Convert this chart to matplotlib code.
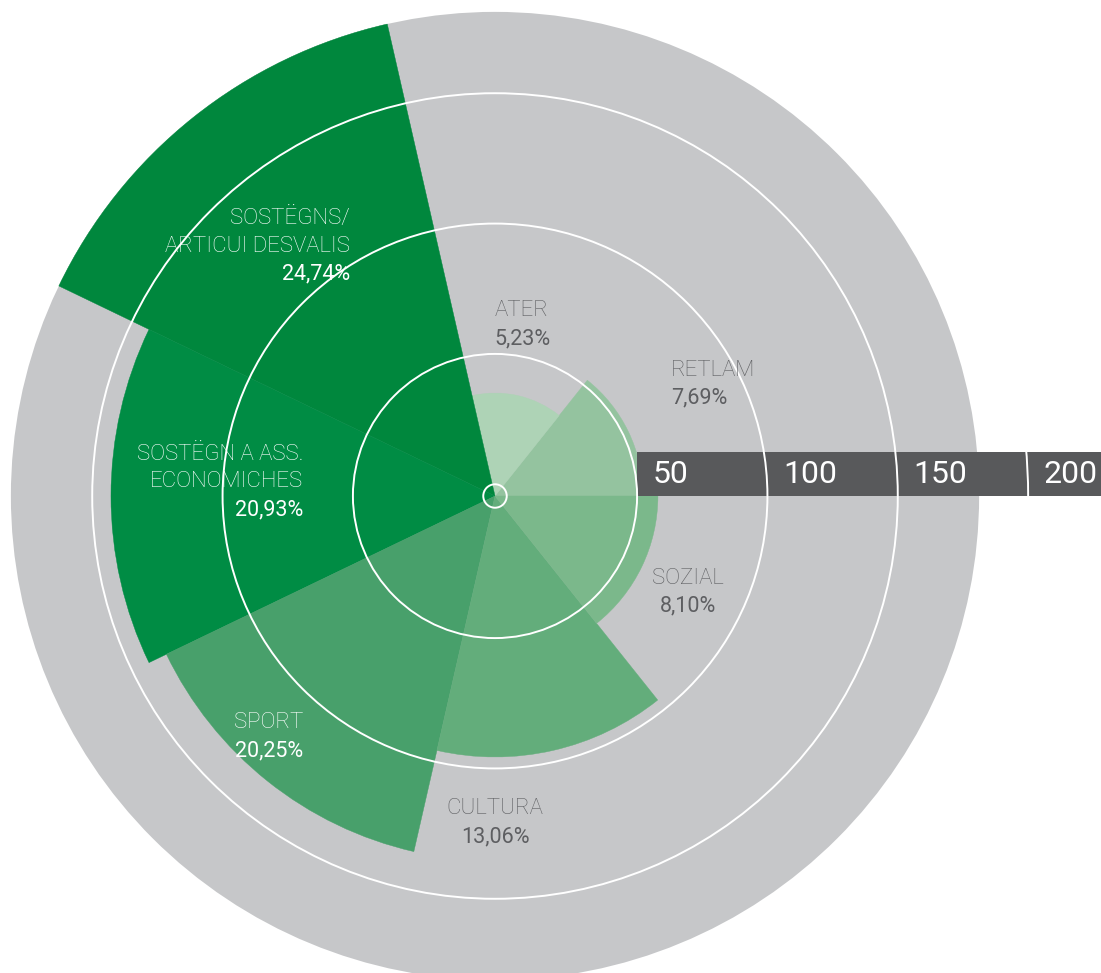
import matplotlib.pyplot as plt
import matplotlib.patches as patches
import numpy as np

# data, counter-clockwise from the right horizontal axis
categories = ['RETLAM', 'ATER', 'SOSTËGNS/\nARTICUI DESVALIS',
              'SOSTËGN A ASS.\nECONOMICHES', 'SPORT', 'CULTURA', 'SOZIAL']
values = [52.3, 35.0, 181.2, 142.8, 135.4, 95.6, 58.0]
shares = ['7,69%', '5,23%', '24,74%', '20,93%', '20,25%', '13,06%', '8,10%']
ticks = [50, 100, 150, 200]

colors = ['#94c39f', '#aed3b6', '#00873d', '#008c44', '#48a06b', '#63ad7b', '#7bb88b']
text_colors = ['#5d5e61', '#5d5e61', 'white', 'white', 'white', '#5d5e61', '#5d5e61']

# label anchors in pixels (x, baseline of the percent line, alignment)
label_pos = [(671, 403, 'left'), (522, 344, 'center'), (350, 279, 'right'),
             (303, 515, 'right'), (303, 756, 'right'), (495, 842, 'center'),
             (688, 611, 'center')]

W, H = 1101, 973
CX, CY = 495, 496      # centre in pixels
K = 2.607              # pixels per unit
R0 = 4.5               # value 0 sits a bit off the centre


def rad(v):
    return v + R0


def px(x, y):
    return (x - CX) / K, (CY - y) / K


plt.rcParams['font.family'] = ['Roboto', 'DejaVu Sans']

fig = plt.figure(figsize=(W / 100, H / 100), dpi=100)
ax = fig.add_axes([0, 0, 1, 1])
ax.set_xlim(-CX / K, (W - CX) / K)
ax.set_ylim(-(H - CY) / K, CY / K)
ax.set_aspect('equal')
ax.axis('off')

# grey background disc
ax.add_patch(patches.Circle((0, 0), rad(max(values)), color='#c6c7c9', lw=0, zorder=1))

# rose wedges
step = 360 / len(values)
for i, v in enumerate(values):
    w = patches.Wedge((0, 0), rad(v), i * step, (i + 1) * step,
                      facecolor=colors[i], edgecolor=colors[i], lw=0.3, zorder=2)
    ax.add_patch(w)

# scale bar
bar_h = 44 / K
bar = patches.Rectangle((rad(ticks[0]), 0), (W - CX) / K - rad(ticks[0]) + 5, bar_h,
                        facecolor='#58595b', lw=0, zorder=3)
ax.add_patch(bar)

# white rings
for t in [0] + ticks[:-1]:
    ax.add_patch(patches.Circle((0, 0), rad(t), fill=False, edgecolor='white',
                                lw=1.4, zorder=4))
sep = patches.Circle((0, 0), rad(ticks[-1]), fill=False, edgecolor='white', lw=1.4, zorder=4)
ax.add_patch(sep)
sep.set_clip_path(bar)

for t in ticks:
    ax.text(rad(t) + 6.0, 13 / K, str(t), color='white', fontsize=23,
            fontweight='normal', ha='left', va='baseline', zorder=5)

# category labels
for i, name in enumerate(categories):
    x, y, ha = label_pos[i]
    lx, ly = px(x, y)
    ax.text(lx, ly, shares[i], color=text_colors[i], fontsize=15.5,
            fontweight='normal', ha=ha, va='baseline', zorder=5)
    lines = name.split('\n')
    for k, line in enumerate(reversed(lines)):
        lx, ly = px(x, y - 27.5 * (k + 1))
        ax.text(lx, ly, line, color=text_colors[i], fontsize=16,
                fontweight='light', ha=ha, va='baseline', zorder=5)

fig.savefig('out.png', dpi=100)
